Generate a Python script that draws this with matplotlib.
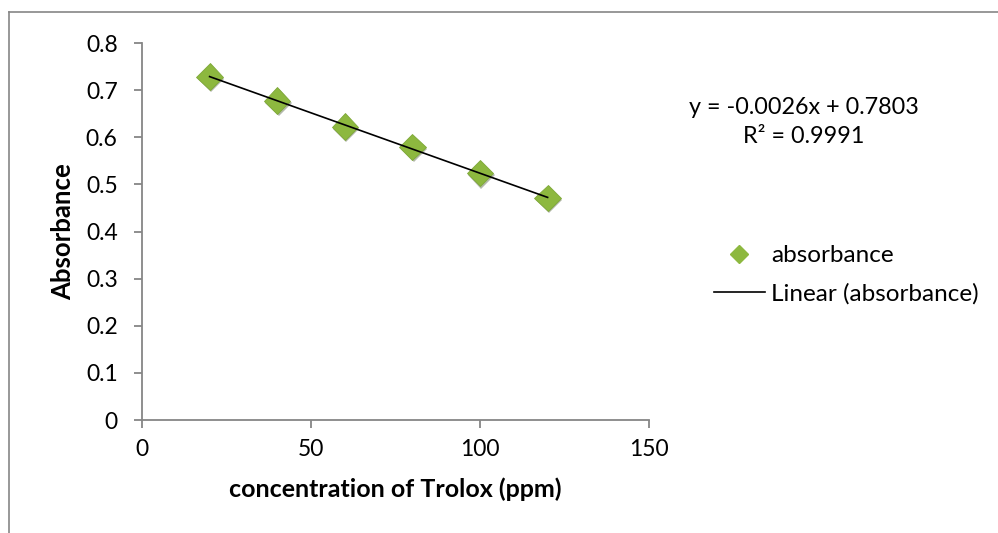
import numpy as np
import matplotlib
matplotlib.use("Agg")
import matplotlib.pyplot as plt
import matplotlib.patheffects as pe
from matplotlib.lines import Line2D

plt.rcParams['font.family'] = ['Lato', 'DejaVu Sans']

# data
conc = [20, 40, 60, 80, 100, 120]
absorb = [0.729, 0.678, 0.623, 0.580, 0.524, 0.471]
x_ticks = [0, 50, 100, 150]
y_ticks = [0, 0.1, 0.2, 0.3, 0.4, 0.5, 0.6, 0.7, 0.8]

green = '#8DB83F'
axcol = '#868686'

fig = plt.figure(figsize=(9.98, 5.33), dpi=100)
ax = fig.add_axes([0.1423, 0.212, 0.508, 0.707])

# chart area border (left and top only visible)
fig.add_artist(Line2D([0.009, 0.009], [0, 0.977], color=axcol, lw=1.2, transform=fig.transFigure))
fig.add_artist(Line2D([0.009, 1.0], [0.977, 0.977], color=axcol, lw=1.2, transform=fig.transFigure))

# linear trend line
slope, icpt = np.polyfit(conc, absorb, 1)
xs = np.array([min(conc), max(conc)])
ax.plot(xs, slope * xs + icpt, color='black', lw=1.2, zorder=3)

ax.plot(conc, absorb, linestyle='none', marker='D', markersize=13.5,
        color=green, markeredgecolor='#7EA838', markeredgewidth=0.6, zorder=2,
        path_effects=[pe.SimplePatchShadow(offset=(1, -1.5), alpha=0.35), pe.Normal()])

ax.set_xlim(0, 150)
ax.set_ylim(0, 0.8)
ax.set_xticks(x_ticks)
ax.set_yticks(y_ticks)
ax.set_yticklabels(['0' if v == 0 else f'{v:.1f}' for v in y_ticks])

for s in ['top', 'right']:
    ax.spines[s].set_visible(False)
for s in ['left', 'bottom']:
    ax.spines[s].set_color(axcol)
    ax.spines[s].set_linewidth(1.3)
ax.tick_params(colors=axcol, labelcolor='black', length=5.5, width=1.3, labelsize=16.5)
ax.tick_params(axis='x', pad=8)
ax.tick_params(axis='y', pad=12)

ax.set_xlabel('concentration of Trolox (ppm)', fontsize=18, fontweight='bold')
ax.set_ylabel('Absorbance', fontsize=18.5, fontweight='bold')
ax.xaxis.set_label_coords(0.5, -0.152)
ax.yaxis.set_label_coords(-0.132, 0.5)

# trendline equation
fig.text(0.805, 1 - 108 / 533, 'y = -0.0026x + 0.7803', fontsize=16.8, ha='center', va='center')
fig.text(0.805, 1 - 137 / 533, 'R² = 0.9991', fontsize=16.8, ha='center', va='center')

# legend
handles = [Line2D([], [], linestyle='none', marker='D', markersize=9, color=green),
           Line2D([], [], color='black', lw=1.2)]
fig.legend(handles, ['absorbance', 'Linear (absorbance)'], loc='center left',
           bbox_to_anchor=(0.703, 1 - 275 / 533), frameon=False, fontsize=17.5,
           handlelength=2.1, handletextpad=0.25, labelspacing=0.7, borderpad=0)

fig.savefig('out.png', dpi=100)
